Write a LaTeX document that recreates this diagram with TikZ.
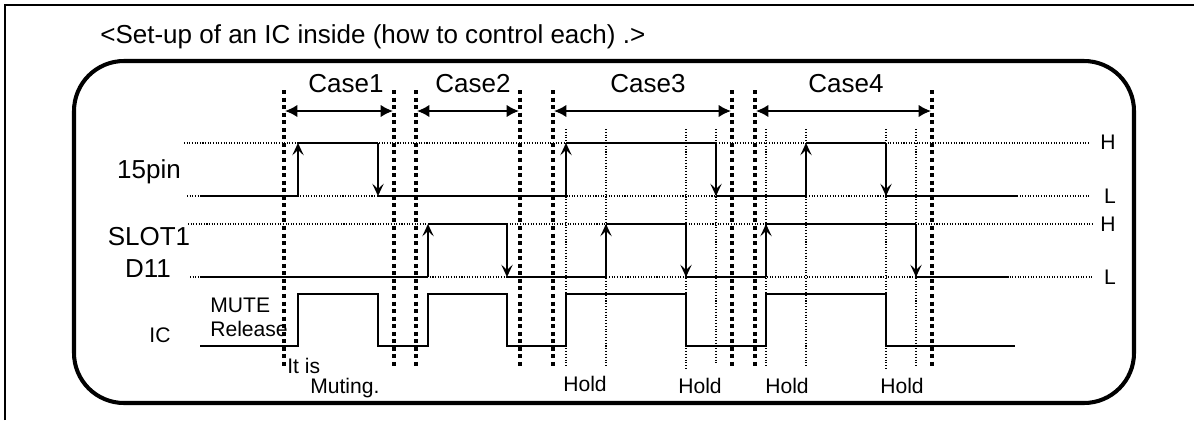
\documentclass[tikz,border=0pt]{standalone}
\usepackage{fontspec}
\setmainfont{Liberation Sans}
\usetikzlibrary{arrows.meta}

\begin{document}
\begin{tikzpicture}[x=0.02cm, y=-0.02cm,
    bigtxt/.style={font=\fontsize{14.8}{17}\selectfont, inner sep=0pt},
    smalltxt/.style={font=\fontsize{12}{14}\selectfont, inner sep=0pt},
    level/.style={line width=0.6pt, dash pattern=on 0.6pt off 0.9pt},
    guide/.style={line width=0.6pt, dash pattern=on 0.6pt off 1pt},
    border/.style={line width=2.3pt, dash pattern=on 2.3pt off 2pt},
    wave/.style={line width=1pt},
    edgeto/.style={line width=1pt, -{Stealth[length=7pt, width=6.5pt, inset=3pt]}},
    span/.style={line width=0.9pt, {Latex[length=7pt, width=7pt]}-{Latex[length=7pt, width=7pt]}}]
                \useasboundingbox (0,0) rectangle (1194,420);
                % Frame
                \draw[line width=1.1pt] (5,420) -- (5,5) -- (1194,5);
                \node[bigtxt, anchor=base west] (title) at (100,43) {<Set-up of an IC inside (how to control each) .>};
                \draw[line width=2.3pt, rounded corners=1cm] (74,61) rectangle (1134,403);
                % Level lines
                \draw[level] (184,143) -- (1090,143);
                \draw[level] (187,196) -- (1090,196);
                \draw[level] (188,224) -- (1092,224);
                \draw[level] (190,277) -- (1092,277);
                \node[smalltxt] (h1) at (1108,142) {H};
                \node[smalltxt] (l1) at (1110,196) {L};
                \node[smalltxt] (h2) at (1108,224) {H};
                \node[smalltxt] (l2) at (1110,277) {L};
                % Hold guides
                \draw[guide] (566,129) -- (566,366);
                \draw[guide] (606,129) -- (606,367);
                \draw[guide] (686,129) -- (686,369);
                \draw[guide] (716,129) -- (716,364);
                \draw[guide] (766,129) -- (766,366);
                \draw[guide] (806,129) -- (806,366);
                \draw[guide] (886,129) -- (886,369);
                \draw[guide] (916,129) -- (916,367);
                % 15pin
                \draw[wave] (200,196) -- (298,196) (298,143) -- (378,143) (378,196) -- (566,196)
                    (566,143) -- (716,143) (716,196) -- (806,196) (806,143) -- (886,143) (886,196) -- (1017,196);
                \draw[edgeto] (298,196) -- (298,143);
                \draw[edgeto] (378,143) -- (378,196);
                \draw[edgeto] (566,196) -- (566,143);
                \draw[edgeto] (716,143) -- (716,196);
                \draw[edgeto] (806,196) -- (806,143);
                \draw[edgeto] (886,143) -- (886,196);
                % SLOT1 D11
                \draw[wave] (200,277) -- (428,277) (428,224) -- (507,224) (507,277) -- (606,277)
                    (606,224) -- (686,224) (686,277) -- (766,277) (766,224) -- (916,224) (916,277) -- (1009,277);
                \draw[edgeto] (428,277) -- (428,224);
                \draw[edgeto] (507,224) -- (507,277);
                \draw[edgeto] (606,277) -- (606,224);
                \draw[edgeto] (686,224) -- (686,277);
                \draw[edgeto] (766,277) -- (766,224);
                \draw[edgeto] (916,224) -- (916,277);
                % IC
                \draw[wave] (200,346) -- (298,346) -- (298,294) -- (378,294) -- (378,346) -- (428,346)
                    -- (428,294) -- (507,294) -- (507,346) -- (566,346) -- (566,294) -- (686,294)
                    -- (686,346) -- (766,346) -- (766,294) -- (886,294) -- (886,346) -- (1015,346);
                % Case borders
                \draw[border] (284,90) -- (284,368);
                \draw[border] (394,90) -- (394,368);
                \draw[border] (416,90) -- (416,368);
                \draw[border] (520,90) -- (520,368);
                \draw[border] (553,90) -- (553,368);
                \draw[border] (732,90) -- (732,368);
                \draw[border] (755,90) -- (755,368);
                \draw[border] (932,90) -- (932,368);
                % Case spans
                \coordinate (c1a) at (285,111);
                \coordinate (c1b) at (393,111);
                \coordinate (c2a) at (417,111);
                \coordinate (c2b) at (519,111);
                \coordinate (c3a) at (554,111);
                \coordinate (c3b) at (731,111);
                \coordinate (c4a) at (756,111);
                \coordinate (c4b) at (931,111);
                \draw[span] (c1a) -- (c1b);
                \draw[span] (c2a) -- (c2b);
                \draw[span] (c3a) -- (c3b);
                \draw[span] (c4a) -- (c4b);
                \node[bigtxt, anchor=base] (case1) at (346,92) {Case1};
                \node[bigtxt, anchor=base] (case2) at (473,92) {Case2};
                \node[bigtxt, anchor=base] (case3) at (648,92) {Case3};
                \node[bigtxt, anchor=base] (case4) at (846,92) {Case4};
                % Signal names
                \node[bigtxt, anchor=base] (pin) at (149,178) {15pin};
                \node[bigtxt, anchor=base] (slot) at (149,245) {SLOT1};
                \node[bigtxt, anchor=base] (dat) at (148,277) {D11};
                \node[smalltxt, anchor=base] (ic) at (160,342) {IC};
                % Notes
                \node[smalltxt, anchor=base west] (mute) at (210,312) {MUTE};
                \node[smalltxt, anchor=base west] (release) at (210,336) {Release};
                \node[smalltxt, anchor=base west] (itis) at (287,373) {It is};
                \node[smalltxt, anchor=base west] (muting) at (310,393) {Muting.};
                \node[smalltxt, anchor=base] (hold1) at (585,391) {Hold};
                \node[smalltxt, anchor=base] (hold2) at (700,393) {Hold};
                \node[smalltxt, anchor=base] (hold3) at (787,393) {Hold};
                \node[smalltxt, anchor=base] (hold4) at (902,393) {Hold};
\end{tikzpicture}
\end{document}
